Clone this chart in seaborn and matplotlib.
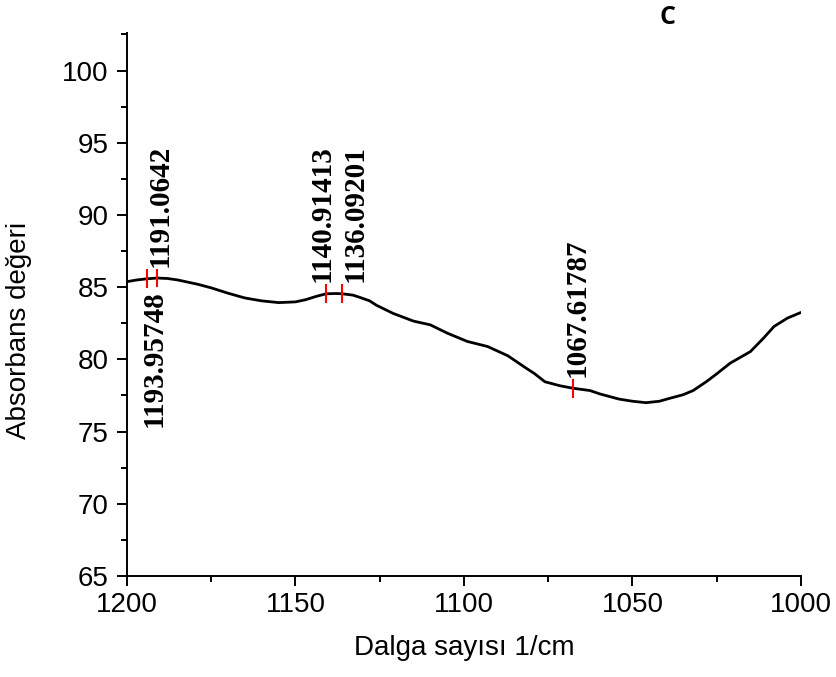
import numpy as np
import pandas as pd
import seaborn as sns
import matplotlib.pyplot as plt
from matplotlib.ticker import MultipleLocator

# spectrum (wavenumber 1/cm, absorbance)
wavenumber = [1200, 1197, 1193.96, 1191.06, 1188, 1185, 1182, 1179, 1175, 1170,
              1165, 1160, 1155, 1150, 1147, 1144, 1140.91, 1138, 1136.09, 1133,
              1131, 1128, 1126, 1121, 1115, 1110, 1105, 1099, 1093, 1087,
              1082, 1079, 1076, 1071.5, 1067.62, 1062.6, 1059.6, 1054, 1050, 1046,
              1042, 1039, 1035, 1032, 1028, 1025, 1021, 1015, 1011, 1008,
              1004, 1000]
absorbance = [85.38, 85.50, 85.58, 85.63, 85.60, 85.50, 85.35, 85.20, 84.95, 84.58,
              84.25, 84.05, 83.93, 83.98, 84.13, 84.35, 84.54, 84.56, 84.54, 84.45,
              84.30, 84.05, 83.75, 83.18, 82.65, 82.39, 81.82, 81.24, 80.89, 80.25,
              79.46, 79.00, 78.45, 78.17, 78.00, 77.84, 77.60, 77.25, 77.10, 77.00,
              77.10, 77.30, 77.55, 77.84, 78.47, 79.00, 79.74, 80.54, 81.50, 82.28,
              82.86, 83.25]

peak_x = [1193.95748, 1191.0642, 1140.91413, 1136.09201, 1067.61787]
peak_labels = ["1193.95748", "1191.0642", "1140.91413", "1136.09201", "1067.61787"]

df = pd.DataFrame({"wn": wavenumber, "abs": absorbance})

sns.set_style("ticks")
plt.rcParams['font.family'] = ['Liberation Sans', 'DejaVu Sans']
plt.rcParams['text.color'] = 'black'
plt.rcParams['axes.labelcolor'] = 'black'
plt.rcParams['xtick.color'] = 'black'
plt.rcParams['ytick.color'] = 'black'

fig = plt.figure(figsize=(8.37, 6.77), dpi=100)
ax = fig.add_axes([0.1517, 0.1492, 0.8053, 0.8021])

sns.lineplot(data=df, x="wn", y="abs", color="black", linewidth=2.0, ax=ax)

# peak markers
wn_sorted = df.sort_values("wn")
peak_y = np.interp(peak_x, wn_sorted["wn"], wn_sorted["abs"])
half = 0.65
ax.vlines(peak_x, peak_y - half, peak_y + half, color="red", linewidth=1.5, zorder=3)

# label placement: (horizontal offset px, above/below)
place = [(7, "below"), (3, "above"), (-4, "above"), (13, "above"), (4.5, "above")]
for x, y, lab, (dx, side) in zip(peak_x, peak_y, peak_labels, place):
    if side == "above":
        ax.annotate(lab, xy=(x, y + half), xytext=(dx * 0.72, 1.5),
                    textcoords="offset points", rotation=90, ha="center", va="bottom",
                    fontfamily="Liberation Serif", fontweight="bold", fontsize=21)
    else:
        ax.annotate(lab, xy=(x, y - half), xytext=(dx * 0.72, -1.5),
                    textcoords="offset points", rotation=90, ha="center", va="top",
                    fontfamily="Liberation Serif", fontweight="bold", fontsize=21)

ax.set_xlim(1200, 1000)
ax.set_ylim(65, 102.6)
ax.xaxis.set_major_locator(MultipleLocator(50))
ax.xaxis.set_minor_locator(MultipleLocator(25))
ax.yaxis.set_major_locator(MultipleLocator(5))
ax.yaxis.set_minor_locator(MultipleLocator(2.5))
ax.tick_params(which="major", direction="out", length=7.2, width=1.4, labelsize=20)
ax.tick_params(which="minor", direction="out", length=4.5, width=1.4)
ax.tick_params(axis="x", which="major", pad=4.5)
ax.tick_params(axis="y", which="major", pad=6)
ax.set_yticks(np.arange(65, 101, 5))

for s in ["top", "right"]:
    ax.spines[s].set_visible(False)
for s in ["left", "bottom"]:
    ax.spines[s].set_linewidth(1.4)
    ax.spines[s].set_color("black")

ax.set_xlabel("Dalga sayısı 1/cm", fontsize=20, labelpad=12)
ax.set_ylabel("Absorbans değeri", fontsize=20)
ax.yaxis.set_label_coords(-0.141, 0.453)

fig.text(668 / 837, 1 - 18 / 677, "C", fontsize=18, fontweight="bold",
         fontfamily="Open Sans", ha="center", va="center")

fig.savefig("out.png", dpi=100)
